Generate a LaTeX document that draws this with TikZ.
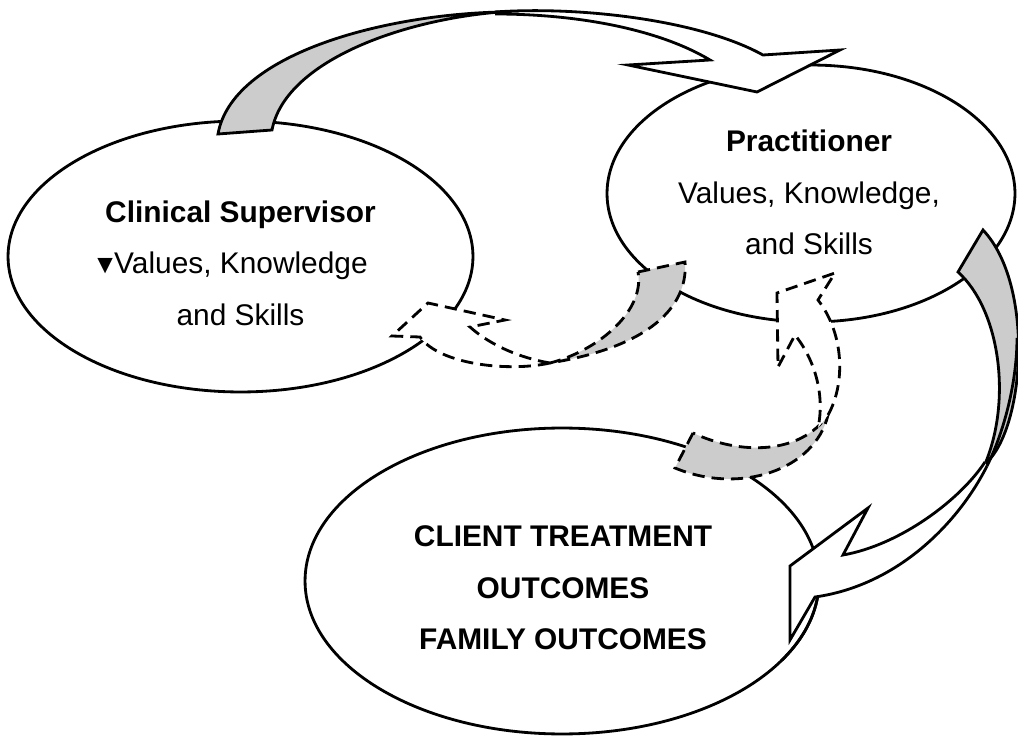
\documentclass[tikz,border=0pt]{standalone}
\usepackage{fontspec}
\setmainfont{Liberation Sans}
\usetikzlibrary{shapes.geometric}
\definecolor{backgray}{RGB}{204,204,204}
\newcommand{\bubble}[6]{
  \node[BubbleStyle, minimum width=#3, minimum height=#4] (#1) at (#2) {};
  \node[TextStyle] (#1text) at (#5) {#6};
}
\tikzset{BubbleStyle/.style = {ellipse, draw, fill=white, line width=1.6pt, inner sep=0pt},
         TextStyle/.style   = {align=center, inner sep=0pt,
                               font=\fontsize{17}{29.3}\selectfont},
         BackStyle/.style   = {draw, fill=backgray, line width=1.6pt},
         FrontStyle/.style  = {draw, fill=white, line width=1.6pt},
         DashStyle/.style   = {dash pattern=on 7pt off 4pt}}

\begin{document}
\begin{tikzpicture}[x=0.02cm, y=-0.02cm]
  \useasboundingbox (0,0) rectangle (1018,736);
  \bubble{super}{240.5,256.5}{9.3cm}{5.42cm}{240.5,263}{\textbf{Clinical Supervisor}\\
    {\fontsize{15}{15}\selectfont ▼}\kern-2.3pt Values, Knowledge\kern12pt\\and Skills}
  \bubble{pract}{811,193.5}{8.16cm}{5.14cm}{809,192.5}{\textbf{Practitioner}\\
    Values, Knowledge,\\and Skills}
  \bubble{client}{562,581}{10.28cm}{6.12cm}{563,588}{\textbf{CLIENT TREATMENT}\\
    \textbf{OUTCOMES}\\\textbf{FAMILY OUTCOMES}}
  % supervisor -> practitioner
  \draw[BackStyle] (218,134) .. controls (232,55) and (380,15) .. (500,12)
    .. controls (400,20) and (285,62) .. (272,130) -- cycle;
  \draw[FrontStyle] (495,12) .. controls (580,6) and (700,20) .. (763,55)
    -- (840,50) -- (757,92) -- (628,65) -- (710,60)
    .. controls (660,30) and (580,14) .. (495,14);
  % practitioner -> client
  \draw[BackStyle] (983,230) -- (958,272) .. controls (1000,310) and (1012,400) .. (985,464)
    .. controls (1025,430) and (1035,285) .. (983,230) -- cycle;
  \draw[FrontStyle] (985,462) .. controls (960,500) and (900,545) .. (843,555)
    -- (868,508) -- (790,566) -- (790,640) -- (815,597)
    .. controls (900,585) and (960,520) .. (987,466);
  \draw[line width=1.6pt] (987,466) .. controls (1005,430) and (1017,380) .. (1017,338);
  \begin{scope}
    \clip (780,598) rectangle (830,660);
    \draw[line width=1.6pt] (client.center) ellipse [x radius=5.14cm, y radius=3.06cm];
  \end{scope}
  % practitioner -> supervisor
  \draw[BackStyle, DashStyle] (638,272) -- (685,262) .. controls (688,300) and (660,345) .. (550,363)
    .. controls (600,350) and (645,310) .. (638,272) -- cycle;
  \draw[FrontStyle, DashStyle] (550,363) .. controls (510,372) and (440,365) .. (420,337)
    -- (392,336) -- (428,303) -- (505,320) -- (470,327)
    .. controls (490,345) and (520,358) .. (550,363);
  % client -> practitioner
  \draw[BackStyle, DashStyle] (693,433) -- (675,468) .. controls (740,495) and (815,470) .. (828,415)
    .. controls (800,455) and (740,455) .. (693,433) -- cycle;
  \draw[FrontStyle, DashStyle] (828,415) .. controls (845,385) and (845,335) .. (818,300)
    -- (835,273) -- (777,293) -- (778,367) -- (795,335)
    .. controls (815,360) and (825,395) .. (818,428);
\end{tikzpicture}
\end{document}
